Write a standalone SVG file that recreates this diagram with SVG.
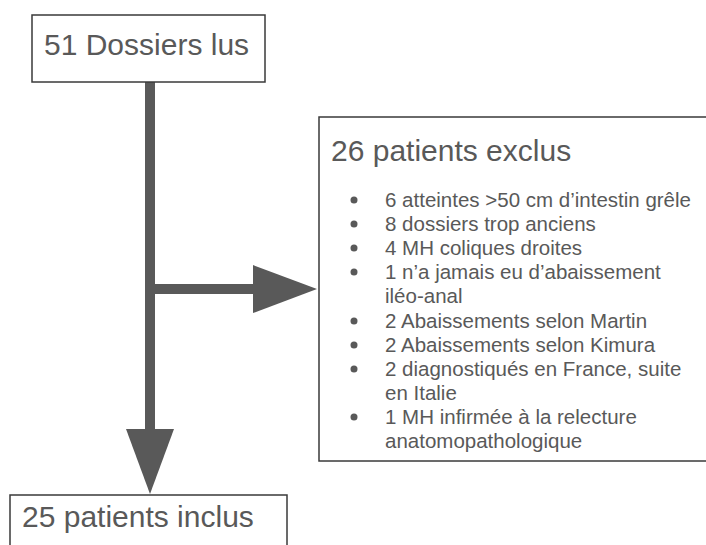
<svg xmlns="http://www.w3.org/2000/svg" width="706" height="545" viewBox="0 0 706 545">
<style>
.box{fill:#fff;stroke:#3a3a3a;stroke-width:1.5}
.big{font-family:"Liberation Sans",Arial,sans-serif;font-size:30px;fill:#595959}
.li{font-family:"Liberation Sans",Arial,sans-serif;font-size:20.5px;fill:#595959}
.bul{fill:#595959}
.con{fill:#595959;stroke:none}
</style>
<rect width="706" height="545" fill="#fff"/>
<g id="connectors">
<rect class="con" x="145" y="82" width="10" height="348"/>
<polygon class="con" points="126,429 174,429 150,494"/>
<rect class="con" x="150" y="284" width="104" height="10"/>
<polygon class="con" points="253,265 253,313 317,289"/>
</g>
<g id="n-dossiers">
<rect class="box" x="32" y="15" width="233" height="67"/>
<text class="big" x="44" y="55">51 Dossiers lus</text>
</g>
<g id="n-exclus">
<rect class="box" x="319" y="117" width="400" height="344"/>
<text class="big" x="331" y="161">26 patients exclus</text>
<g class="bul">
<circle cx="354" cy="200" r="3.5"/>
<circle cx="354" cy="224" r="3.5"/>
<circle cx="354" cy="248" r="3.5"/>
<circle cx="354" cy="272" r="3.5"/>
<circle cx="354" cy="321" r="3.5"/>
<circle cx="354" cy="345" r="3.5"/>
<circle cx="354" cy="369" r="3.5"/>
<circle cx="354" cy="417" r="3.5"/>
</g>
<text class="li" x="385" y="207">6 atteintes &gt;50 cm d’intestin grêle</text>
<text class="li" x="385" y="231">8 dossiers trop anciens</text>
<text class="li" x="385" y="255">4 MH coliques droites</text>
<text class="li" x="385" y="279">1 n’a jamais eu d’abaissement</text>
<text class="li" x="385" y="303">iléo-anal</text>
<text class="li" x="385" y="328">2 Abaissements selon Martin</text>
<text class="li" x="385" y="352">2 Abaissements selon Kimura</text>
<text class="li" x="385" y="376">2 diagnostiqués en France, suite</text>
<text class="li" x="385" y="400">en Italie</text>
<text class="li" x="385" y="424">1 MH infirmée à la relecture</text>
<text class="li" x="385" y="448">anatomopathologique</text>
</g>
<g id="n-inclus">
<rect class="box" x="10" y="495" width="277" height="60"/>
<text class="big" x="22" y="527">25 patients inclus</text>
</g>
</svg>
